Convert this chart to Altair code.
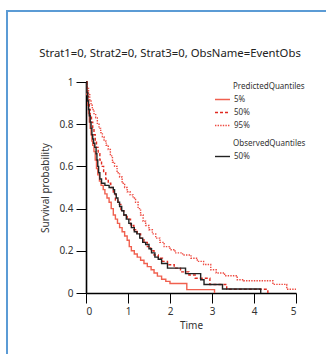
import altair as alt
import pandas as pd

# ---- data (step curves: time, survival) ----
obs_t = [0, 0.02, 0.04, 0.06, 0.08, 0.10, 0.12, 0.14, 0.16, 0.18, 0.21, 0.24, 0.26, 0.28, 0.30, 0.33,
         0.37, 0.45, 0.55, 0.65, 0.68, 0.72, 0.76, 0.80, 0.85, 0.90, 0.96, 1.02, 1.08, 1.15, 1.21,
         1.28, 1.35, 1.42, 1.50, 1.56, 1.64, 1.72, 1.80, 1.94, 2.37, 2.73, 2.81, 3.25, 4.16]
obs_s = [1, 0.95, 0.91, 0.87, 0.84, 0.81, 0.78, 0.75, 0.73, 0.71, 0.69, 0.66, 0.63, 0.60, 0.57, 0.54,
         0.52, 0.51, 0.50, 0.49, 0.47, 0.45, 0.43, 0.41, 0.39, 0.37, 0.35, 0.33, 0.31, 0.29, 0.28,
         0.26, 0.24, 0.23, 0.21, 0.19, 0.17, 0.16, 0.14, 0.118, 0.092, 0.063, 0.04, 0.019, 0]

q05_t = [0, 0.02, 0.04, 0.06, 0.08, 0.10, 0.12, 0.14, 0.16, 0.19, 0.22, 0.25, 0.28, 0.32, 0.36, 0.41,
         0.45, 0.50, 0.55, 0.60, 0.65, 0.70, 0.75, 0.80, 0.86, 0.92, 0.98, 1.03, 1.08, 1.15, 1.22,
         1.30, 1.38, 1.46, 1.55, 1.62, 1.70, 1.80, 1.90, 2.00, 2.40, 3.06]
q05_s = [1, 0.94, 0.89, 0.85, 0.81, 0.78, 0.75, 0.72, 0.70, 0.67, 0.63, 0.59, 0.56, 0.53, 0.51, 0.49,
         0.47, 0.45, 0.43, 0.40, 0.37, 0.35, 0.33, 0.31, 0.29, 0.27, 0.25, 0.22, 0.20, 0.185, 0.17,
         0.155, 0.14, 0.125, 0.11, 0.095, 0.08, 0.065, 0.055, 0.045, 0.016, 0]

q50_t = [0, 0.02, 0.04, 0.06, 0.08, 0.10, 0.13, 0.16, 0.19, 0.22, 0.25, 0.29, 0.33, 0.37, 0.42, 0.47,
         0.53, 0.59, 0.65, 0.70, 0.76, 0.83, 0.90, 0.98, 1.06, 1.14, 1.22, 1.30, 1.38, 1.46, 1.54,
         1.62, 1.72, 1.82, 1.94, 2.10, 2.25, 2.45, 2.60, 2.95, 3.35, 4.33]
q50_s = [1, 0.96, 0.93, 0.90, 0.87, 0.84, 0.81, 0.78, 0.75, 0.72, 0.69, 0.66, 0.63, 0.60, 0.57, 0.54,
         0.52, 0.50, 0.47, 0.44, 0.42, 0.39, 0.37, 0.35, 0.32, 0.30, 0.28, 0.26, 0.24, 0.22, 0.20,
         0.18, 0.165, 0.15, 0.134, 0.118, 0.10, 0.085, 0.07, 0.04, 0.018, 0]

q95_t = [0, 0.03, 0.06, 0.09, 0.12, 0.15, 0.19, 0.23, 0.27, 0.31, 0.35, 0.39, 0.43, 0.48, 0.53, 0.58,
         0.63, 0.68, 0.74, 0.80, 0.86, 0.92, 0.98, 1.05, 1.12, 1.18, 1.24, 1.30, 1.36, 1.42, 1.50,
         1.58, 1.66, 1.76, 1.86, 2.00, 2.12, 2.30, 2.50, 2.65, 2.80, 2.97, 3.10, 3.30, 3.60, 3.75,
         4.45, 4.78, 5.0]
q95_s = [1, 0.97, 0.94, 0.91, 0.89, 0.87, 0.85, 0.83, 0.80, 0.78, 0.76, 0.74, 0.72, 0.70, 0.68, 0.65,
         0.62, 0.60, 0.57, 0.55, 0.52, 0.50, 0.48, 0.465, 0.45, 0.43, 0.40, 0.37, 0.34, 0.32, 0.30,
         0.28, 0.26, 0.24, 0.22, 0.205, 0.19, 0.18, 0.165, 0.15, 0.135, 0.11, 0.095, 0.082, 0.063,
         0.058, 0.041, 0.018, 0.018]

pred_names = ["5%", "50%", "95%"]
pred_colors = ["#f0604f", "#e02a20", "#ee4a40"]
pred_dashes = [[1, 0], [3, 2], [1.4, 1.2]]
obs_names = ["50%"]
obs_colors = ["#222222"]

title_text = "Strat1=0, Strat2=0, Strat3=0, ObsName=EventObs"
x_values = [0, 0.5, 1, 1.5, 2, 2.5, 3, 3.5, 4, 4.5, 5]
y_values = [0, 0.1, 0.2, 0.3, 0.4, 0.5, 0.6, 0.7, 0.8, 0.9, 1.0]

rows = []
for name, ts, ss in zip(pred_names, [q05_t, q50_t, q95_t], [q05_s, q50_s, q95_s]):
    for t, s in zip(ts, ss):
        rows.append({"q": name, "t": t, "s": s})
pred_df = pd.DataFrame(rows)
obs_df = pd.DataFrame({"q": "50%", "t": obs_t, "s": obs_s})

FONT = "Noto Sans"
x_scale = alt.Scale(domain=[0, 5], nice=False, zero=False)
y_scale = alt.Scale(domain=[0, 1], nice=False)

x_axis = alt.Axis(
    title="Time", values=x_values, format="~g",
    labelExpr="datum.value % 1 === 0 ? datum.label : ''",
    tickSize={"condition": {"test": "datum.value % 1 === 0", "value": 10}, "value": 5},
    grid=False, domainColor="#000", domainWidth=1.6, tickColor="#000", tickWidth=1,
    labelFont=FONT, labelFontSize=10, labelColor="#333", labelPadding=3,
    titleFont=FONT, titleFontSize=10, titleFontWeight="normal", titleColor="#333", titlePadding=4,
)
y_test = "abs(datum.value*5 - round(datum.value*5)) < 0.001"
y_axis = alt.Axis(
    title="Survival probability", values=y_values, format="~g",
    labelExpr=y_test + " ? datum.label : ''",
    tickSize={"condition": {"test": y_test, "value": 10}, "value": 6},
    grid=False, domainColor="#000", domainWidth=1.6, tickColor="#000", tickWidth=1,
    labelFont=FONT, labelFontSize=10, labelColor="#333", labelPadding=3,
    titleFont=FONT, titleFontSize=10, titleFontWeight="normal", titleColor="#333", titlePadding=8,
)

legend_common = dict(
    orient="none", symbolType="stroke", symbolSize=225, symbolStrokeWidth=1.4,
    symbolOffset=-19,
    labelFont=FONT, labelFontSize=8, labelColor="#333", labelOffset=3,
    titleFont=FONT, titleFontSize=8, titleFontWeight="normal", titleColor="#333",
    titlePadding=0, padding=0, rowPadding=-5,
)

pred_chart = alt.Chart(pred_df).mark_line(interpolate="step-after", strokeWidth=1.4).encode(
    x=alt.X("t:Q", scale=x_scale, axis=x_axis),
    y=alt.Y("s:Q", scale=y_scale, axis=y_axis),
    color=alt.Color("q:N", scale=alt.Scale(domain=pred_names, range=pred_colors),
                    legend=alt.Legend(title="PredictedQuantiles", legendX=147, legendY=1, **legend_common)),
    strokeDash=alt.StrokeDash("q:N", scale=alt.Scale(domain=pred_names, range=pred_dashes),
                              legend=alt.Legend(title="PredictedQuantiles", legendX=147, legendY=1, **legend_common)),
)

obs_chart = alt.Chart(obs_df).mark_line(interpolate="step-after", strokeWidth=1.4).encode(
    x=alt.X("t:Q", scale=x_scale),
    y=alt.Y("s:Q", scale=y_scale),
    color=alt.Color("q:N", scale=alt.Scale(domain=obs_names, range=obs_colors),
                    legend=alt.Legend(title="ObservedQuantiles", legendX=147, legendY=58, **legend_common)),
)

frame_src = alt.Data(values=[{"k": 0}])
frame_top = alt.Chart(frame_src).mark_rule(color="#5b9bd5", strokeWidth=2).encode(
    x=alt.value(-80), x2=alt.value(260), y=alt.value(-71)
)
frame_left = alt.Chart(frame_src).mark_rule(color="#5b9bd5", strokeWidth=2).encode(
    x=alt.value(-79), y=alt.value(-72), y2=alt.value(280)
)

chart = alt.layer(frame_top, frame_left, pred_chart, obs_chart).resolve_scale(
    color="independent", strokeDash="independent"
).properties(
    width=210, height=211,
    autosize=alt.AutoSizeParams(type="none"),
    padding={"left": 86, "top": 82, "right": 30, "bottom": 61},
    background="white",
    title=alt.TitleParams(text=title_text, font=FONT, fontSize=11.3, fontWeight="normal",
                          color="#222", anchor="middle", dx=-21, offset=-50),
).configure_view(stroke="transparent")

chart.save("out.html", embed_options={"renderer": "svg", "actions": False})
